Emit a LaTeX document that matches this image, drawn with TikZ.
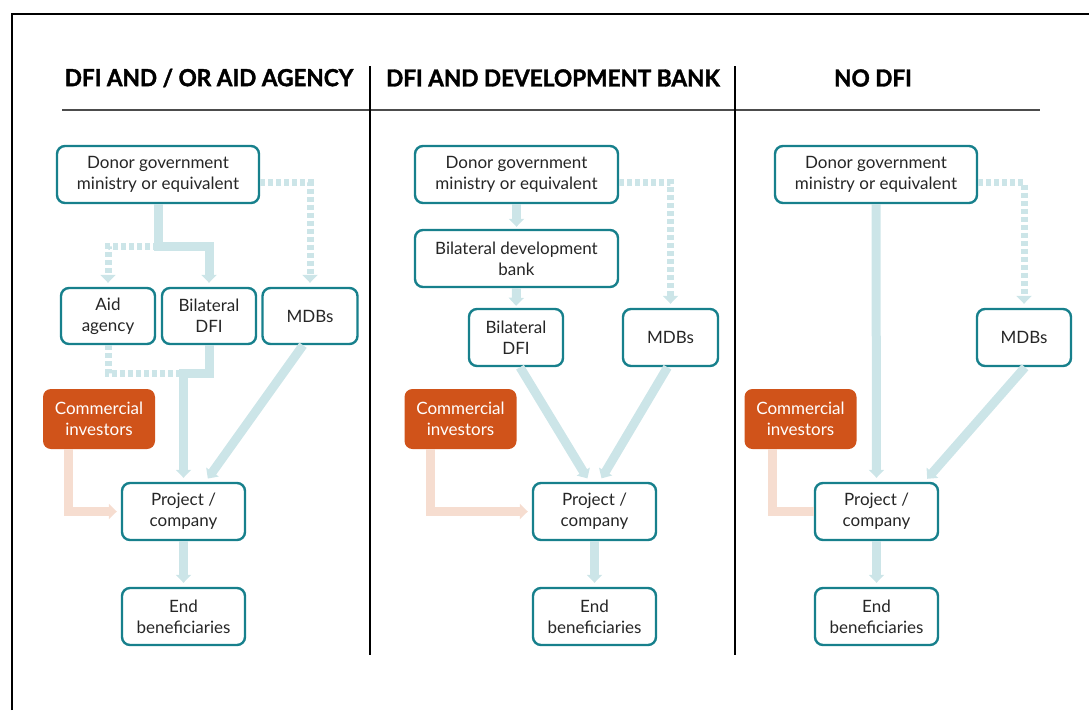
\documentclass[tikz,border=0pt]{standalone}
\usepackage{fontspec}
\setmainfont{Lato}
\newfontfamily\headfont[FakeStretch=0.96,FakeBold=1.6]{Lato}
\usetikzlibrary{arrows.meta}
\definecolor{tealline}{HTML}{17808C}
\definecolor{flowblue}{HTML}{CCE5E8}
\definecolor{investor}{HTML}{D0531A}
\definecolor{peach}{HTML}{F6DDD0}
\definecolor{inktext}{HTML}{262626}
\tikzset{
  box/.style={draw=tealline, line width=2.4pt, rounded corners=8pt, fill=white,
    align=center, text=inktext, inner sep=2pt, font=\fontsize{17}{21}\selectfont},
  invest/.style={fill=investor, rounded corners=8pt, align=center, text=white,
    inner sep=2pt, font=\fontsize{17}{21}\selectfont, minimum width=112pt, minimum height=60pt},
  flow/.style={draw=flowblue, line width=9pt, -{Triangle[width=15pt,length=8pt]}, shorten >=4pt},
  dflow/.style={draw=flowblue, line width=7pt, dash pattern=on 5pt off 3pt},
  cflow/.style={draw=peach, line width=9pt},
  head/.style={font=\headfont\bfseries\fontsize{23.5}{26}\selectfont, text=black}
}
\begin{document}
\begin{tikzpicture}[x=1pt,y=-1pt]
  \useasboundingbox (0,0) rectangle (1089,710);
  % frame and column rules
  \draw[line width=2pt] (12,710) -- (12,14) -- (1089,14);
  \draw[line width=2pt, black!70] (62,110) -- (1040,110);
  \draw[line width=1.2pt] (370,66) -- (370,655);
  \draw[line width=1.2pt] (735,66) -- (735,655);
  \node[head] (h1) at (209,78) {DFI AND / OR AID AGENCY};
  \node[head] (h2) at (553,78) {DFI AND DEVELOPMENT BANK};
  \node[head] (h3) at (873,78) {NO DFI};

  % column 1
  \node[box, minimum width=202pt, minimum height=57pt] (d1) at (158,174.5) {Donor government\\ministry or equivalent};
  \node[box, minimum width=94pt, minimum height=56pt] (aid1) at (108,316) {Aid\\agency};
  \node[box, minimum width=94pt, minimum height=56pt] (bdfi1) at (209,316) {Bilateral\\DFI};
  \node[box, minimum width=95pt, minimum height=56pt] (mdb1) at (310,316) {MDBs};
  \node[invest] (ci1) at (99,419) {Commercial\\investors};
  \node[box, minimum width=123pt, minimum height=57pt] (proj1) at (183.5,511.5) {Project /\\company};
  \node[box, minimum width=123pt, minimum height=57pt] (end1) at (183.5,616.5) {End\\beneficiaries};
  \path (d1.south) ++(0,42) coordinate (s1);
  \path (bdfi1.south) ++(0,28) coordinate (j1);
  \draw[dflow, -{Triangle[width=15pt,length=8pt]}, shorten >=4pt] (s1) -| (aid1.north);
  \draw[flow] (d1.south) -- (s1) -| (bdfi1.north);
  \draw[dflow, -{Triangle[width=15pt,length=8pt]}, shorten >=4pt] ([yshift=-8pt]d1.east) -| (mdb1.north);
  \draw[dflow] (aid1.south) |- (j1 -| proj1.north);
  \draw[flow] (bdfi1.south) -- (j1) -| (proj1.north);
  \draw[flow] ([xshift=-7pt]mdb1.south) -- ([xshift=22pt]proj1.north);
  \draw[cflow, -{Triangle[width=15pt,length=8pt]}, shorten >=4pt] ([xshift=-31pt]ci1.south) |- (proj1.west);
  \draw[flow] (proj1.south) -- (end1.north);

  % column 2
  \node[box, minimum width=203pt, minimum height=57pt] (d2) at (516.5,174.5) {Donor government\\ministry or equivalent};
  \node[box, minimum width=203pt, minimum height=57pt] (bdb2) at (516.5,258.5) {Bilateral development\\bank};
  \node[box, minimum width=94pt, minimum height=57pt] (bdfi2) at (516,337.5) {Bilateral\\DFI};
  \node[box, minimum width=95pt, minimum height=57pt] (mdb2) at (670.5,337.5) {MDBs};
  \node[invest] (ci2) at (460.5,419) {Commercial\\investors};
  \node[box, minimum width=123pt, minimum height=57pt] (proj2) at (594.5,511.5) {Project /\\company};
  \node[box, minimum width=123pt, minimum height=57pt] (end2) at (594.5,616.5) {End\\beneficiaries};
  \draw[flow, shorten >=2pt] (d2.south) -- (bdb2.north);
  \draw[flow, shorten >=2pt] (bdb2.south) -- (bdfi2.north);
  \draw[dflow, -{Triangle[width=15pt,length=8pt]}, shorten >=4pt] ([yshift=-8pt]d2.east) -| (mdb2.north);
  \draw[flow] ([xshift=4pt]bdfi2.south) -- ([xshift=-5pt]proj2.north);
  \draw[flow] ([xshift=-3pt]mdb2.south) -- ([xshift=5pt]proj2.north);
  \draw[cflow, -{Triangle[width=15pt,length=8pt]}, shorten >=4pt] ([xshift=-30pt]ci2.south) |- (proj2.west);
  \draw[flow] (proj2.south) -- (end2.north);

  % column 3
  \node[box, minimum width=202pt, minimum height=57pt] (d3) at (876,174.5) {Donor government\\ministry or equivalent};
  \node[box, minimum width=94pt, minimum height=57pt] (mdb3) at (1024,337.5) {MDBs};
  \node[invest] (ci3) at (800.5,419) {Commercial\\investors};
  \node[box, minimum width=123pt, minimum height=57pt] (proj3) at (876.5,511.5) {Project /\\company};
  \node[box, minimum width=123pt, minimum height=57pt] (end3) at (876.5,616.5) {End\\beneficiaries};
  \draw[flow] (d3.south) -- (proj3.north);
  \draw[dflow, -{Triangle[width=15pt,length=8pt]}, shorten >=4pt] ([yshift=-8pt]d3.east) -| (mdb3.north);
  \draw[flow] ([xshift=1pt]mdb3.south) -- ([xshift=48pt]proj3.north);
  \draw[cflow] ([xshift=-28pt]ci3.south) |- (proj3.west);
  \draw[flow] (proj3.south) -- (end3.north);
\end{tikzpicture}
\end{document}
